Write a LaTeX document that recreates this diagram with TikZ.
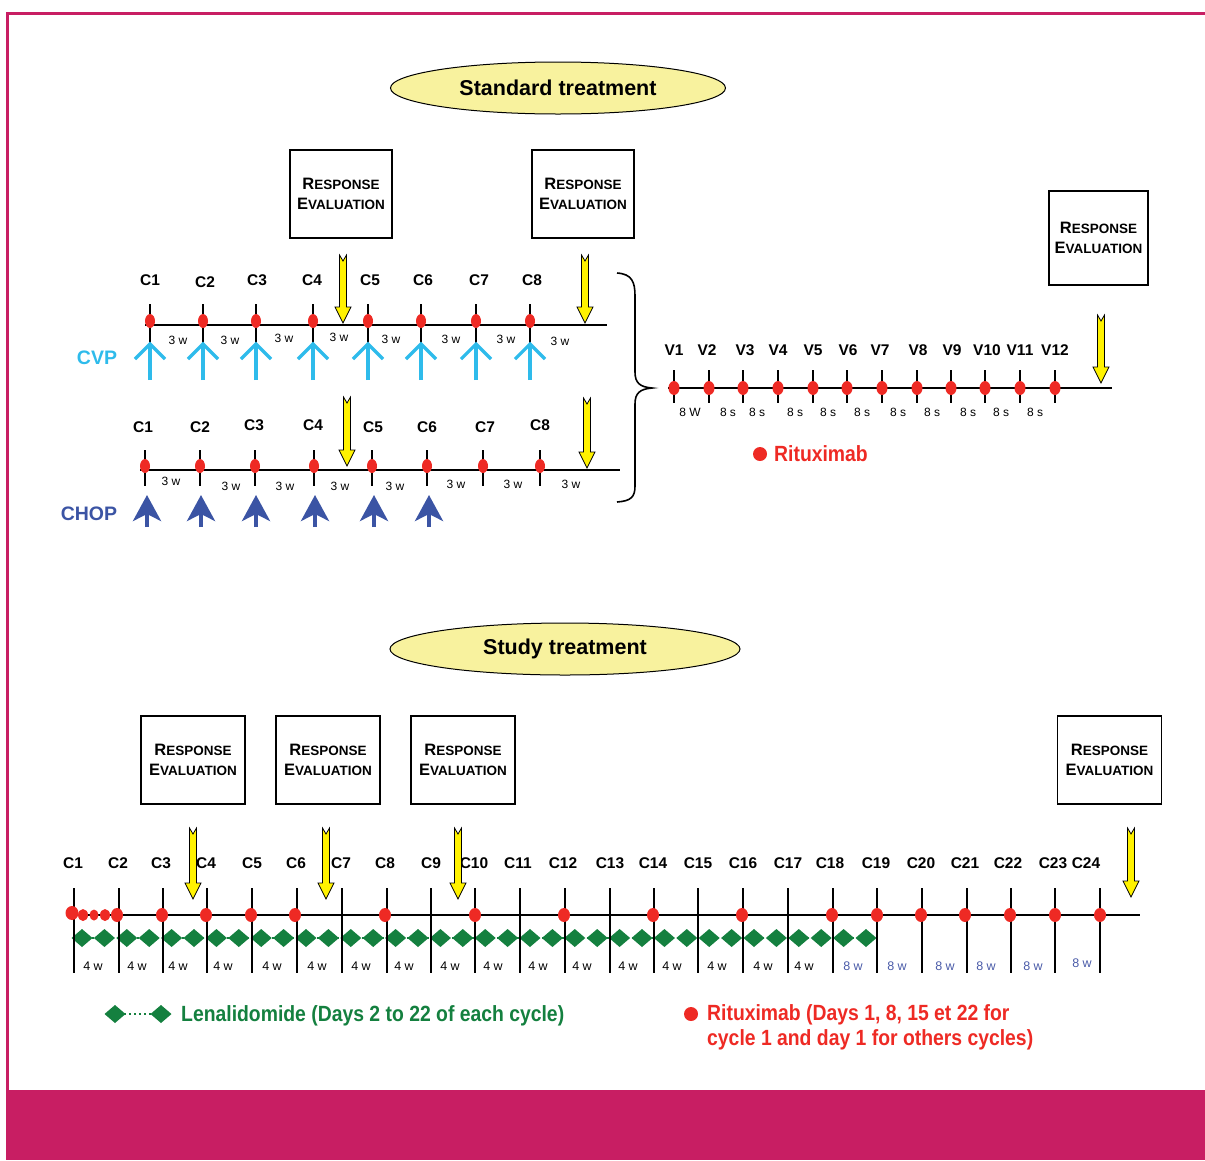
\documentclass[tikz,border=0pt]{standalone}
\usepackage{fontspec}
\setmainfont{Liberation Sans}
\usetikzlibrary{arrows.meta,shapes.geometric}
\definecolor{mag}{HTML}{C81E63}
\definecolor{ylw}{HTML}{FFF200}
\definecolor{pale}{HTML}{F8F29E}
\definecolor{rdot}{HTML}{EE2A24}
\definecolor{lblue}{HTML}{2EBBEB}
\definecolor{dblue}{HTML}{3B54A4}
\definecolor{wblue}{HTML}{4A5BA8}
\definecolor{grn}{HTML}{14803F}
\newcommand\bigR[1]{{\fontsize{16.5}{20}\selectfont #1}}
\newcommand\revtxt{\bigR{R}ESPONSE\\\bigR{E}VALUATION}
\newcommand\yarr[3]{%
  \filldraw[fill=ylw,draw=black,line width=0.8pt,line join=miter]
  (#1-3.5,#2) -- (#1,#2+6) -- (#1+3.5,#2) -- (#1+3.5,#3-16) -- (#1+8,#3-16)
  -- (#1,#3) -- (#1-8,#3-16) -- (#1-3.5,#3-16) -- cycle;}
\newcommand\gdiam[2]{\fill[grn] (#1-10.5,#2) -- (#1,#2-9) -- (#1+10.5,#2) -- (#1,#2+9) -- cycle;}
\tikzset{
  lab/.style={font=\fontsize{15.5}{15.5}\selectfont\bfseries,inner sep=0pt},
  wk/.style={font=\fontsize{12}{12}\selectfont,inner sep=0pt},
  wk4/.style={font=\fontsize{12.5}{12.5}\selectfont,inner sep=0pt},
  revbox/.style={draw,line width=1.3pt,align=center,inner sep=0pt,
    font=\fontsize{13.5}{20}\selectfont\bfseries,minimum width=102,minimum height=88},
  titell/.style={ellipse,draw,line width=1pt,fill=pale,inner sep=0pt,
    font=\fontsize{21.5}{21.5}\selectfont\bfseries},
  axis/.style={line width=1.7pt},
  tick/.style={line width=1.7pt},
  big/.style={font=\fontsize{19.5}{19.5}\selectfont\bfseries,inner sep=0pt},
  leg/.style={font=\fontsize{22}{27}\selectfont\bfseries,inner sep=0pt}
}
\begin{document}
\begin{tikzpicture}[x=1pt,y=-1pt]
\useasboundingbox (0,0) rectangle (1205,1160);
% frame
\fill[mag] (6,12) rectangle (1205,15);
\fill[mag] (6,12) rectangle (9,1090);
\fill[mag] (6,1090) rectangle (1205,1160);

% titles
\node[titell,minimum width=335,minimum height=52] (std) at (558,88) {Standard treatment};
\node[titell,minimum width=350,minimum height=52] (stu) at (565,649) {Study treatment};

% response evaluation boxes
\node[revbox] (re1) at (341,194) {\revtxt};
\node[revbox] (re2) at (583,194) {\revtxt};
\node[revbox,minimum width=99,minimum height=94] (re3) at (1098.5,238) {\revtxt};
\node[revbox,minimum width=104] (re4) at (193,760) {\revtxt};
\node[revbox,minimum width=104] (re5) at (328,760) {\revtxt};
\node[revbox,minimum width=104] (re6) at (463,760) {\revtxt};
\node[revbox,minimum width=104] (re7) at (1109.5,760) {\revtxt};

% ---------------- CVP ----------------
\draw[axis] (145,325) -- (607,325);
\foreach \x/\lx/\ly [count=\i] in {150/150/280,203/205/282,256/257/280,313/312/280,368/370/280,421/423/280,476/479/280,530/532/280}{
  \draw[tick] (\x,304) -- (\x,343);
  \fill[rdot] (\x,321) ellipse [x radius=5,y radius=7];
  \node[lab] (cvpC\i) at (\lx,\ly) {C\i};
  \draw[lblue,line width=3.2pt] (\x,380) -- (\x,345);
  \draw[lblue,line width=3.2pt,line join=miter] (\x-15,359) -- (\x,344) -- (\x+15,359);
}
\foreach \x/\y [count=\i] in {178/340,230/340,284/338,339/337,391/339,451/339,506/339,560/341}
  \node[wk] (cvpW\i) at (\x,\y) {3 w};
\node[big,text=lblue] (cvp) at (97,358) {CVP};
\yarr{343}{255}{323}
\yarr{585}{255}{323}

% ---------------- CHOP ----------------
\draw[axis] (140,470) -- (620,470);
\foreach \x/\lx/\ly [count=\i] in {145/143/427,200/200/427,255/254/425,314/313/425,372/373/427,427/427/427,483/485/427,540/540/425}{
  \draw[tick] (\x,450) -- (\x,486);
  \fill[rdot] (\x,466) ellipse [x radius=5,y radius=7];
  \node[lab] (chopC\i) at (\lx,\ly) {C\i};
}
\foreach \x [count=\i] in {147,201,256,315,374,429}
  \draw[dblue,line width=4pt,-{Stealth[length=26pt,width=28pt,inset=7pt]}] (\x,527) -- (\x,495);
\foreach \x/\y [count=\i] in {171/481,231/486,285/486,340/486,395/486,456/484,513/484,571/484}
  \node[wk] (chopW\i) at (\x,\y) {3 w};
\node[big,text=dblue] (chop) at (89,514) {CHOP};
\yarr{347}{397}{466}
\yarr{587}{398}{468}

% brace
\draw[line width=1.6pt] (617,273) .. controls (632,274) and (635,282) .. (635,296)
  -- (635,372) .. controls (635,383) and (640,387) .. (652,388)
  .. controls (640,389) and (635,393) .. (635,404)
  -- (635,486) .. controls (635,497) and (631,501) .. (617,502);

% ---------------- Rituximab maintenance ----------------
\draw[axis] (668,388) -- (1112,388);
\foreach \x/\lx [count=\i] in {674/674,709/707,743/745,778/778,813/813,847/848,882/880,917/918,951/952,985/987,1020/1020,1055/1055}{
  \draw[tick] (\x,370) -- (\x,403);
  \fill[rdot] (\x,388) ellipse [x radius=5.5,y radius=7];
  \node[lab] (mV\i) at (\lx,350) {V\i};
}
\node[wk] (mW0) at (690,412) {8 W};
\foreach \x [count=\i] in {728,757,795,828,862,898,932,968,1001,1035}
  \node[wk] (mW\i) at (\x,412) {8 s};
\yarr{1101}{315}{383}
\fill[rdot] (760,454) circle [radius=7];
\node[leg,text=rdot,anchor=west] (ritu) at (774,454) {\scalebox{0.88}[1]{Rituximab}};

% ---------------- Study treatment ----------------
\draw[axis] (68,915) -- (1140,915);
\draw[grn,line width=2.5pt,dash pattern=on 2pt off 3pt] (82,938) -- (866,938);
\foreach \k in {0,...,35}{ \gdiam{82+22.4*\k}{938} }
\foreach \x/\lx [count=\i] in {74/73,119/118,163/161,207/206,252/252,297/296,342/341,387/385,431/431,475/474,520/518,565/563,610/610,654/653,698/698,743/743,788/788,833/830,877/876,922/921,967/965,1011/1008,1055/1053,1100/1086}{
  \draw[tick] (\x,888) -- (\x,973);
  \node[lab] (sC\i) at (\lx,863) {C\i};
}
\fill[rdot] (72,913) ellipse [x radius=6.5,y radius=7];
\fill[rdot] (83,915) ellipse [x radius=5,y radius=6];
\fill[rdot] (94,915) ellipse [x radius=4.5,y radius=5.5];
\fill[rdot] (105,915) ellipse [x radius=5,y radius=6];
\foreach \x in {117,162,206,251,295,385,475,564,653,742,832,877,921,965,1010,1055,1100}
  \fill[rdot] (\x,915) ellipse [x radius=6,y radius=7];
\foreach \x [count=\i] in {93,137,178,223,272,317,361,404,450,493,538,582,628,672,717,763,804}
  \node[wk4] (sW\i) at (\x,966) {4 w};
\foreach \x/\y [count=\i] in {853/966,897/966,945/966,986/966,1033/966,1082/963}
  \node[wk4,text=wblue] (sE\i) at (\x,\y) {8 w};
\yarr{193}{828}{899}
\yarr{326}{828}{899}
\yarr{458}{828}{899}
\yarr{1131}{828}{897}

% legends
\draw[grn,line width=2.5pt,dash pattern=on 2pt off 3pt] (124,1014) -- (152,1014);
\gdiam{115}{1014}
\gdiam{161}{1014}
\node[leg,text=grn,anchor=west] (lena) at (181,1016) {\scalebox{0.88}[1]{Lenalidomide (Days 2 to 22 of each cycle)}};
\fill[rdot] (691,1014) circle [radius=7];
\node[leg,anchor=west,text=rdot] (ritl) at (707,1028) {\scalebox{0.88}[1]{\begin{tabular}{@{}l@{}}Rituximab (Days 1, 8, 15 et 22 for\\[-2pt]cycle 1 and day 1 for others cycles)\end{tabular}}};
\end{tikzpicture}
\end{document}
